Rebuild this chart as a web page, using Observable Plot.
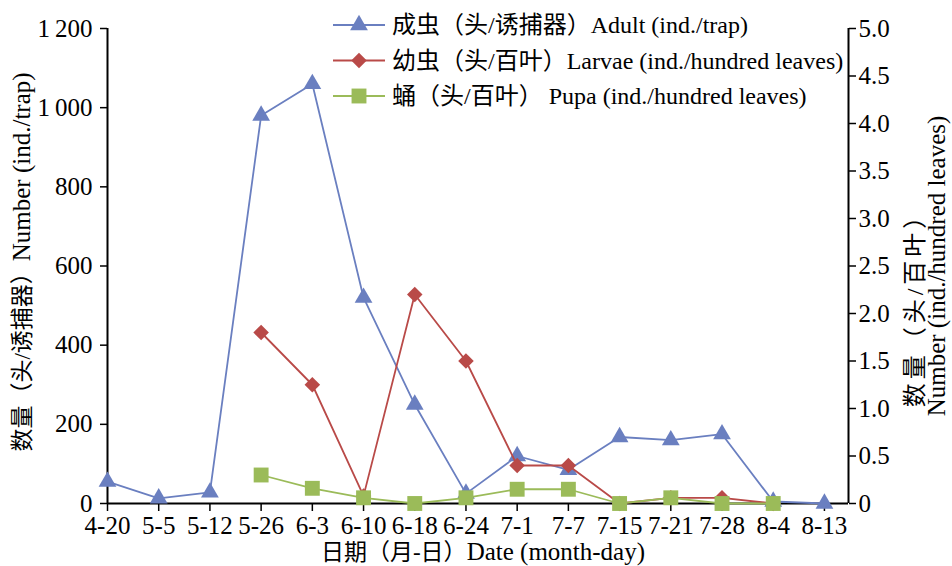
<!DOCTYPE html>
<html>
<head>
<meta charset="utf-8">
<script src="https://cdn.jsdelivr.net/npm/d3@7"></script>
<script src="https://cdn.jsdelivr.net/npm/@observablehq/plot@0.6"></script>
<style>
  html, body { margin: 0; padding: 0; background: #fff; }
  #chart { width: 952px; height: 566px; position: relative; }
</style>
</head>
<body>
<div id="chart"></div>
<script>
const dates = ["4-20","5-5","5-12","5-26","6-3","6-10","6-18","6-24","7-1","7-7","7-15","7-21","7-28","8-4","8-13"];
const adult  = [55, 13, 28, 980, 1060, 520, 250, 25, 120, 85, 168, 160, 175, 5, 0];
const larvae = [null, null, null, 1.8, 1.25, 0.08, 2.2, 1.5, 0.4, 0.4, 0, 0.06, 0.06, 0, null];
const pupa   = [null, null, null, 0.3, 0.16, 0.06, 0, 0.06, 0.15, 0.15, 0, 0.06, 0, 0, null];
const leftTicks = [0, 200, 400, 600, 800, 1000, 1200];
const rightTicks = [0, 0.5, 1, 1.5, 2, 2.5, 3, 3.5, 4, 4.5, 5];
const seriesCN = ["成虫（头/诱捕器）", "幼虫（头/百叶）", "蛹（头/百叶）"];
const seriesEN = ["Adult (ind./trap)", "Larvae (ind./hundred leaves)", " Pupa (ind./hundred leaves)"];
const colors = ["#6a7fc0", "#b94a48", "#9bbb59"];
const xTitleCN = "日期（月-日）", xTitleEN = "Date (month-day)";
const yLeftCN = "数量（头/诱捕器）", yLeftEN = "Number (ind./trap)";
const yTitleRight1 = "数量（头/百叶）";
const yTitleRight2 = "Number (ind./hundred leaves)";

const leftMax = 1200, rightMax = 5, k = leftMax / rightMax;
const rows = (arr, scale) => arr.map((v, i) => ({i, v: v == null ? null : v * scale})).filter(d => d.v != null);
const A = rows(adult, 1), L = rows(larvae, k), P = rows(pupa, k);
const xMax = 14.47;
const font = '"Liberation Serif","Noto Sans CJK SC",serif';

const plot = Plot.plot({
  width: 952, height: 566,
  marginLeft: 107, marginRight: 104, marginTop: 28, marginBottom: 63,
  style: {fontFamily: font, fontSize: "25px", color: "#000", background: "#fff"},
  x: {type: "linear", domain: [0, xMax]},
  y: {domain: [0, leftMax]},
  marks: [
    Plot.axisX({ticks: dates.map((d, i) => i), tickFormat: i => dates[i], tickSize: 8, tickPadding: 5, label: null, strokeWidth: 1.5, fontSize: 25}),
    Plot.axisY({ticks: leftTicks, tickFormat: d => d >= 1000 ? d3.format(",")(d).replace(",", "\u2009") : String(d), tickSize: 7, tickPadding: 8, label: null, strokeWidth: 1.5, fontSize: 25}),
    Plot.axisY({anchor: "right", ticks: rightTicks.map(d => d * k), tickFormat: d => d === 0 ? "0" : (d / k).toFixed(1), tickSize: 7, tickPadding: 3, label: null, strokeWidth: 1.5, fontSize: 25}),
    Plot.ruleX([0], {stroke: "#000", strokeWidth: 2}),
    Plot.ruleX([xMax], {stroke: "#000", strokeWidth: 2}),
    Plot.ruleY([0], {stroke: "#000", strokeWidth: 2}),
    Plot.line(A, {x: "i", y: "v", stroke: colors[0], strokeWidth: 1.8}),
    Plot.dot(A, {x: "i", y: "v", symbol: "triangle", r: 6.6, fill: colors[0]}),
    Plot.line(L, {x: "i", y: "v", stroke: colors[1], strokeWidth: 1.8}),
    Plot.dot(L, {x: "i", y: "v", symbol: "diamond2", r: 7.0, fill: colors[1]}),
    Plot.line(P, {x: "i", y: "v", stroke: colors[2], strokeWidth: 1.8}),
    Plot.dot(P, {x: "i", y: "v", symbol: "square", r: 8.4, fill: colors[2]})
  ]
});
document.getElementById("chart").appendChild(plot);

const svg = d3.select(plot);
function twoPart(sel, cn, en, cnSize, enSize) {
  sel.append("tspan").style("font-size", cnSize + "px").text(cn);
  sel.append("tspan").style("font-size", enSize + "px").text(en);
}
// axis titles
twoPart(svg.append("text").attr("x", 483).attr("y", 560).attr("text-anchor", "middle")
  .style("font-family", font), xTitleCN, xTitleEN, 23, 25);
twoPart(svg.append("text").attr("transform", "translate(30,262) rotate(-90)").attr("text-anchor", "middle")
  .style("font-family", font), yLeftCN, yLeftEN, 23, 25);
svg.append("text").attr("transform", "translate(923,304) rotate(-90)").attr("text-anchor", "middle")
  .style("font-family", font).style("font-size", "24px").style("letter-spacing", "4px").text(yTitleRight1);
svg.append("text").attr("transform", "translate(945,266) rotate(-90)").attr("text-anchor", "middle")
  .style("font-family", font).style("font-size", "25px").text(yTitleRight2);

// legend
const symTypes = [d3.symbolTriangle, d3.symbolDiamond2, d3.symbolSquare];
const symSizes = [Math.PI * 6.6 * 6.6, Math.PI * 7.0 * 7.0, Math.PI * 8.4 * 8.4];
const lg = svg.append("g");
seriesCN.forEach((name, j) => {
  const cy = 25 + j * 35.5;
  lg.append("line").attr("x1", 333).attr("x2", 385).attr("y1", cy).attr("y2", cy)
    .attr("stroke", colors[j]).attr("stroke-width", 1.8);
  lg.append("path").attr("transform", `translate(359,${cy})`)
    .attr("d", d3.symbol().type(symTypes[j]).size(symSizes[j])()).attr("fill", colors[j]);
  twoPart(lg.append("text").attr("x", 392).attr("y", cy + 8).attr("text-anchor", "start")
    .style("font-family", font), name, seriesEN[j], 24, 24);
});
</script>
</body>
</html>
